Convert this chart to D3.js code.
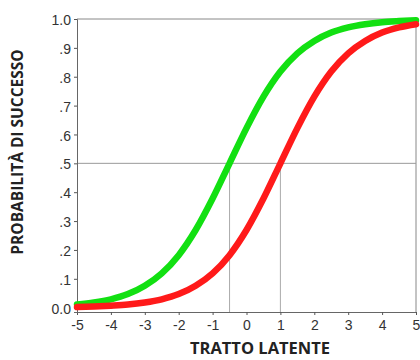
<!DOCTYPE html>
<html>
<head>
<meta charset="utf-8">
<script src="https://cdn.jsdelivr.net/npm/d3@7"></script>
<style>
  body { margin: 0; background: #fff; }
  .tick text { font-family: "Liberation Sans", Arial, sans-serif; font-size: 14px; fill: #333; }
  .title { font-family: "Open Sans", sans-serif; font-weight: bold; fill: #222; }
</style>
</head>
<body>
<svg width="420" height="360"></svg>
<script>
// ability values (x)
var theta = [-5, -4.5, -4, -3.5, -3, -2.5, -2, -1.5, -1, -0.5, 0, 0.5, 1, 1.5, 2, 2.5, 3, 3.5, 4, 4.5, 5];
// green item, easier
var pGreen = [.011, .018, .029, .047, .076, .119, .182, .269, .378, .5, .622, .731, .818, .881, .924, .953, .971, .982, .989, .993, .996];
// red item, harder
var pRed = [.002, .004, .007, .011, .018, .029, .047, .076, .119, .182, .269, .378, .5, .622, .731, .818, .881, .924, .953, .971, .982];
var xTicks = [-5, -4, -3, -2, -1, 0, 1, 2, 3, 4, 5];
var yTicks = [0, .1, .2, .3, .4, .5, .6, .7, .8, .9, 1];
var difficulty = [-0.5, 1];

var svg = d3.select("svg"),
    margin = { top: 19, right: 4, bottom: 48, left: 77 },
    width = +svg.attr("width") - margin.left - margin.right,
    height = +svg.attr("height") - margin.top - margin.bottom,
    g = svg.append("g").attr("transform", "translate(" + margin.left + "," + margin.top + ")");

var x = d3.scaleLinear().domain([-5, 5]).range([0, width]);
var y = d3.scaleLinear().domain([-0.015, 1]).range([height, 0]);

var line = d3.line()
    .x(function (d) { return x(d[0]); })
    .y(function (d) { return y(d[1]); })
    .curve(d3.curveMonotoneX);

// frame top + right
g.append("path")
    .attr("d", "M0," + y(1) + "H" + width + "V" + height)
    .attr("fill", "none")
    .attr("stroke", "#888");

// reference lines at p = .5
g.append("line")
    .attr("x1", 0).attr("x2", width)
    .attr("y1", y(.5)).attr("y2", y(.5))
    .attr("stroke", "#999");
g.selectAll("line.drop")
    .data(difficulty)
    .enter().append("line")
    .attr("class", "drop")
    .attr("x1", function (d) { return x(d); })
    .attr("x2", function (d) { return x(d); })
    .attr("y1", y(.5)).attr("y2", height)
    .attr("stroke", "#aaa");

var xAxis = g.append("g")
    .attr("transform", "translate(0," + height + ")")
    .call(d3.axisBottom(x).tickValues(xTicks).tickSize(3).tickPadding(5)
        .tickFormat(function (d) { return String(d); }));
var yAxis = g.append("g")
    .call(d3.axisLeft(y).tickValues(yTicks).tickSize(3).tickPadding(3)
        .tickFormat(function (d) {
            if (d === 0) return "0.0";
            if (d === 1) return "1.0";
            return d3.format(".1f")(d).replace("0.", ".");
        }));
[xAxis, yAxis].forEach(function (a) {
    a.select(".domain").attr("stroke", "#666");
    a.selectAll(".tick line").attr("stroke", "#555");
});
yAxis.selectAll(".tick text").attr("dy", "0.4em");

g.append("path")
    .datum(d3.zip(theta, pGreen))
    .attr("d", line)
    .attr("fill", "none")
    .attr("stroke", "#12e012")
    .attr("stroke-width", 6.5)
    .attr("stroke-linecap", "round");

g.append("path")
    .datum(d3.zip(theta, pRed))
    .attr("d", line)
    .attr("fill", "none")
    .attr("stroke", "#ff1a1a")
    .attr("stroke-width", 6.5)
    .attr("stroke-linecap", "round");

svg.append("text")
    .attr("class", "title")
    .attr("text-anchor", "middle")
    .style("font-size", "16.5px")
    .attr("x", 260)
    .attr("y", 354)
    .text("TRATTO LATENTE");

svg.append("text")
    .attr("class", "title")
    .attr("text-anchor", "middle")
    .style("font-size", "15.5px")
    .attr("transform", "translate(23,152) rotate(-90)")
    .text("PROBABILITÀ DI SUCCESSO");
</script>
</body>
</html>
